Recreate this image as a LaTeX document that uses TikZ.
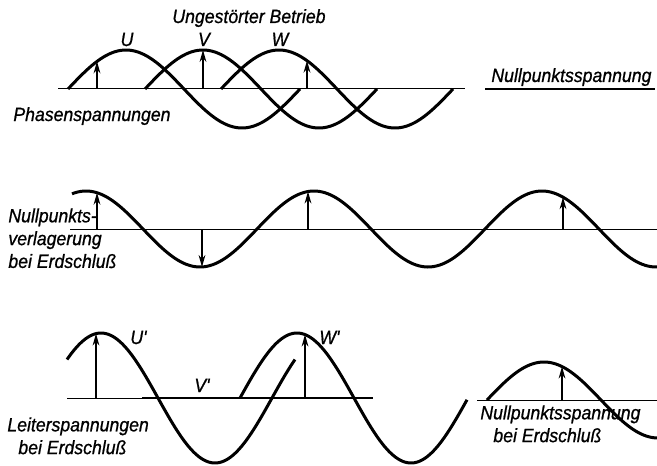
\documentclass[tikz,border=0pt]{standalone}
\usepackage{fontspec}
\setmainfont{Liberation Sans}
\newfontfamily\lblfont[FakeStretch=0.92, FakeBold=0.8]{Liberation Sans}
\usetikzlibrary{arrows.meta}

\begin{document}
\begin{tikzpicture}[x=0.5pt, y=-0.5pt,
  wave/.style={line width=1.5pt},
  zero/.style={line width=0.5pt},
  thickzero/.style={line width=1.1pt},
  vec/.style={line width=0.6pt, -{Stealth[length=6pt,width=3.4pt]}},
  lbl/.style={inner sep=0pt, font=\lblfont\fontsize{9.6}{11.4}\selectfont\itshape}]
  \useasboundingbox (0,0) rectangle (657,465);

  % ungestoerter Betrieb
  \draw[zero] (58,89) -- (465,89);
  \draw[wave] plot[domain=68:300, samples=80, smooth] (\x, {89-39*sin((\x-68)/232*360)});
  \draw[wave] plot[domain=145:377, samples=80, smooth] (\x, {89-39*sin((\x-145)/232*360)});
  \draw[wave] plot[domain=221:453, samples=80, smooth] (\x, {89-39*sin((\x-221)/232*360)});
  \coordinate (u0) at (97,89);
  \coordinate (u1) at (97,{89-39*sin((97-68)/232*360)});
  \coordinate (v0) at (203,89);
  \coordinate (v1) at (203,{89-39*sin((203-145)/232*360)});
  \coordinate (w0) at (307,89);
  \coordinate (w1) at (307,{89-39*sin((307-221)/232*360)});
  \draw[vec] (u0) -- (u1);
  \draw[vec] (v0) -- (v1);
  \draw[vec] (w0) -- (w1);
  \node[lbl, anchor=base] (labU) at (127,46) {U};
  \node[lbl, anchor=base] (labV) at (204,46) {V};
  \node[lbl, anchor=base] (labW) at (280,46) {W};
  \node[lbl, anchor=base west] (title) at (172,23) {Ungestörter Betrieb};
  \node[lbl, anchor=base west] (phasen) at (13,121) {Phasenspannungen};
  \node[lbl, anchor=base west] (np) at (491,82) {Nullpunktsspannung};
  \draw[thickzero] (485,89) -- (655,89);

  % Nullpunktsverlagerung
  \draw[zero] (70,229) -- (657,229);
  \draw[wave] plot[domain=72:657, samples=200, smooth] (\x, {229-38*cos((\x-86)/228*360)});
  \coordinate (a0) at (97,229);
  \coordinate (a1) at (97,{229-38*cos((97-86)/228*360)});
  \coordinate (b0) at (202,229);
  \coordinate (b1) at (202,{229-38*cos((202-86)/228*360)});
  \coordinate (c0) at (308,229);
  \coordinate (c1) at (308,{229-38*cos((308-86)/228*360)});
  \coordinate (d0) at (563,229);
  \coordinate (d1) at (563,{229-38*cos((563-86)/228*360)});
  \draw[vec] (a0) -- (a1);
  \draw[vec] (b0) -- (b1);
  \draw[vec] (c0) -- (c1);
  \draw[vec] (d0) -- (d1);
  \node[lbl, anchor=north west, align=left] (verl) at (8,208)
    {Nullpunkts-\\verlagerung\\bei Erdschluß};

  % Erdschluss
  \draw[zero] (67,398) -- (142,398);
  \draw[thickzero] (142,398) -- (373,398);
  \draw[wave] plot[domain=67:295, samples=100, smooth] (\x, {398-65*cos((\x-101)/228*360)});
  \draw[wave] plot[domain=240:467, samples=100, smooth] (\x, {398-65*sin((\x-240)/228*360)});
  \coordinate (up0) at (96,398);
  \coordinate (up1) at (96,{398-65*cos((96-101)/228*360)});
  \coordinate (wp0) at (305,398);
  \coordinate (wp1) at (305,{398-65*sin((305-240)/228*360)});
  \draw[vec] (up0) -- (up1);
  \draw[vec] (wp0) -- (wp1);
  \node[lbl, anchor=base west] (labUp) at (130,344) {U\textquotesingle};
  \node[lbl, anchor=base west] (labVp) at (194,392) {V\textquotesingle};
  \node[lbl, anchor=base west] (labWp) at (319,344) {W\textquotesingle};
  \node[lbl, anchor=north west, align=left] (leiter) at (7,417)
    {Leiterspannungen\\\hspace*{5.5pt}bei Erdschluß};

  \draw[zero] (477,400) -- (657,400);
  \draw[wave] plot[domain=487:657, samples=80, smooth] (\x, {400-38*sin((\x-487)/228*360)});
  \coordinate (n0) at (562,400);
  \coordinate (n1) at (562,{400-38*sin((562-487)/228*360)});
  \draw[vec] (n0) -- (n1);
  \node[lbl, anchor=north west, align=left] (npe) at (480,405)
    {Nullpunktsspannung\\\hspace*{6.5pt}bei Erdschluß};
\end{tikzpicture}
\end{document}
